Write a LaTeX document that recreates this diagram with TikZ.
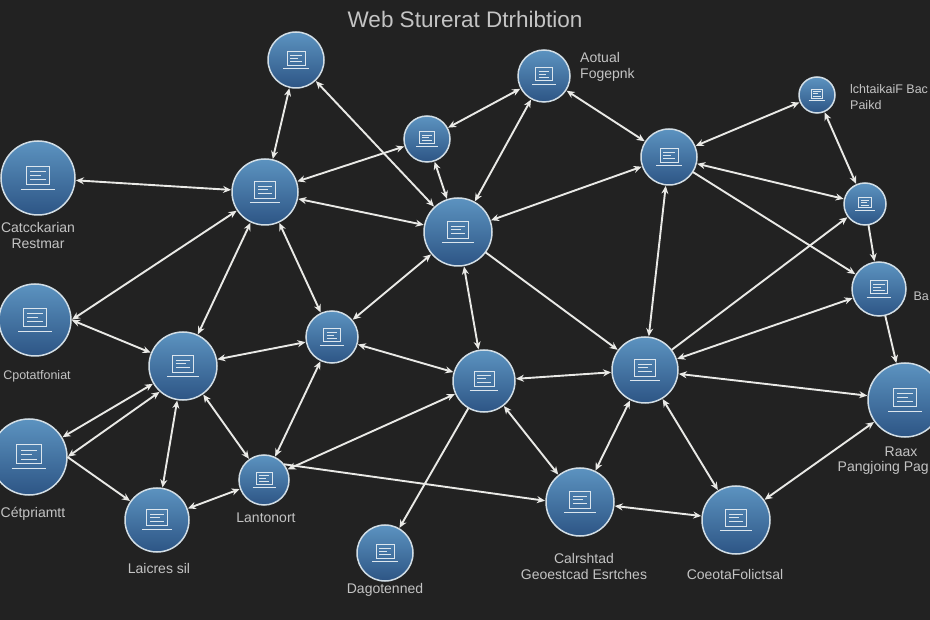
\documentclass[tikz,border=0pt]{standalone}
\usepackage{fontspec}
\setmainfont{Liberation Sans}
\usetikzlibrary{arrows.meta}
\definecolor{bgc}{HTML}{222222}
\definecolor{ctop}{HTML}{5C93C0}
\definecolor{cbot}{HTML}{2D5585}
\definecolor{ringc}{HTML}{D2DEE6}
\definecolor{linkc}{HTML}{E9E9E6}
\definecolor{txtc}{HTML}{C4C4C4}
\definecolor{iconc}{HTML}{DCE6EE}
\tikzset{
  hub/.style={circle,draw=ringc,line width=1.5pt,top color=ctop,bottom color=cbot,inner sep=0pt,outer sep=0.5pt},
  link/.style={linkc,line width=1.9pt,{Stealth[length=8pt,width=7pt]}-{Stealth[length=8pt,width=7pt]},shorten >=0.5pt,shorten <=0.5pt},
  linkr/.style={linkc,line width=1.9pt,-{Stealth[length=8pt,width=7pt]},shorten >=0.5pt},
  lbl/.style={text=txtc,font=\fontsize{14}{16}\selectfont,align=center,inner sep=0pt},
  lblsm/.style={text=txtc,font=\fontsize{12.5}{16}\selectfont,align=left,inner sep=0pt},
  ttl/.style={text=txtc,font=\fontsize{22.5}{24}\selectfont,inner sep=0pt},
  icn/.style={iconc,line width=0.8pt},
  icl/.style={iconc,line width=0.7pt}
}
% hub: name, x, y, radius
\newcommand{\hubnode}[4]{%
  \node[hub,minimum size=#4*2pt] (#1) at (#2,#3) {};
  \begin{scope}[shift={(#2,#3)},x=#4*1pt,y=-#4*1pt]
    \draw[icn] (-0.32,-0.32) rectangle (0.32,0.18);
    \draw[icn,line width=1.1pt] (-0.46,0.31) -- (0.46,0.31);
    \draw[icl] (-0.21,-0.18) -- (0.21,-0.18);
    \draw[icl] (-0.21,-0.07) -- (0.08,-0.07);
    \draw[icl] (-0.21,0.05) -- (0.21,0.05);
  \end{scope}}
\begin{document}
\begin{tikzpicture}[x=1pt,y=-1pt]
\useasboundingbox (0,0) rectangle (930,620);
\fill[bgc] (0,0) rectangle (930,620);
\hubnode{a}{296}{60}{28}
\hubnode{b}{544}{76}{26}
\hubnode{c}{427}{139}{23}
\hubnode{d}{817}{95}{18}
\hubnode{e}{669}{157}{28}
\hubnode{f}{38}{178}{37}
\hubnode{g}{265}{192}{33}
\hubnode{h}{458}{232}{34}
\hubnode{i}{865}{204}{21}
\hubnode{j}{879}{289}{27}
\hubnode{k}{35}{320}{36}
\hubnode{l}{332}{337}{26}
\hubnode{m}{183}{366}{34}
\hubnode{n}{484}{381}{31}
\hubnode{o}{645}{370}{33}
\hubnode{p}{905}{400}{37}
\hubnode{q}{29}{457}{38}
\hubnode{r}{264}{480}{25}
\hubnode{s}{157}{520}{32}
\hubnode{t}{580}{502}{34}
\hubnode{u}{736}{520}{34}
\hubnode{v}{385}{553}{28}
% connectors
\draw[link] (a) -- (g);
\draw[link] (a) -- (h);
\draw[link] (c) -- (b);
\draw[link] (c) -- (g);
\draw[link] (c) -- (h);
\draw[link] (b) -- (h);
\draw[link] (b) -- (e);
\draw[link] (d) -- (e);
\draw[link] (d) -- (i);
\draw[link] (e) -- (h);
\draw[link] (e) -- (i);
\draw[linkr] (e) -- (j);
\draw[link] (f) -- (g);
\draw[link] (g) -- (h);
\draw[link] (k.0) -- (g);
\draw[link] (g) -- (m);
\draw[link] (g) -- (l);
\draw[link] (h) -- (l);
\draw[link] (h) -- (n);
\draw[linkr] (h) -- (o);
\draw[link] (l) -- (n);
\draw[link] (l) -- (m);
\draw[link] (l) -- (r);
\draw[link] (k.0) -- (m);
\draw[link] (m) -- (q);
\draw[link] (q.0) -- (m.228);
\draw[link] (m) -- (s);
\draw[link] (m) -- (r);
\draw[linkr] (q.0) -- (s);
\draw[link] (r) -- (s);
\draw[link] (r) -- (n);
\draw[linkr] (r.38) -- (t.178);
\draw[link] (t) -- (u);
\draw[link] (n) -- (t);
\draw[linkr] (n) -- (v);
\draw[link] (n) -- (o);
\draw[link] (o) -- (t);
\draw[link] (o) -- (u);
\draw[link] (o) -- (e);
\draw[linkr] (o) -- (i);
\draw[link] (o) -- (j);
\draw[link] (o) -- (p);
\draw[link] (p) -- (u);
\draw[linkr] (j) -- (p);
\draw[linkr] (i) -- (j);
% labels
\node[ttl] (title) at (465,19) {Web Sturerat Dtrhibtion};
\node[lbl,align=left,anchor=west] (lb) at (580,67) {Aotual\\Fogepnk};
\node[lblsm,anchor=west] (ld) at (850,97) {lchtaikaiF Bac\\Paikd};
\node[lbl] (lf) at (38,235) {Catcckarian\\Restmar};
\node[lblsm,anchor=east] (lj) at (929,296) {Ba};
\node[lblsm] (lk) at (37,376) {Cpotatfoniat};
\node[lbl] (lq) at (33,514) {Cétpriamtt};
\node[lbl] (lr) at (266,518) {Lantonort};
\node[lbl] (ls) at (159,568) {Laicres sil};
\node[lbl] (lv) at (385,590) {Dagotenned};
\node[lbl] (lt) at (584,566) {Calrshtad\\Geoestcad Esrtches};
\node[lbl] (lu) at (735,574) {CoeotaFolictsal};
\node[lbl] (lp1) at (901,452) {Raax};
\node[lbl,anchor=east] (lp2) at (929,468) {Pangjoing Pag};
\end{tikzpicture}
\end{document}
